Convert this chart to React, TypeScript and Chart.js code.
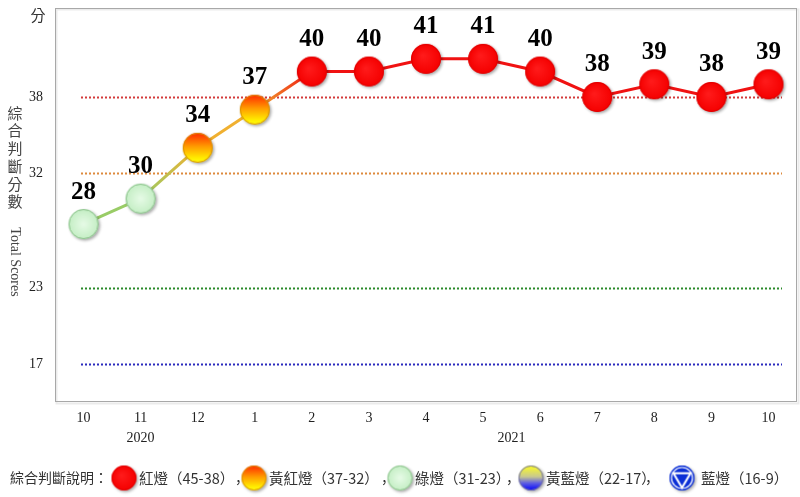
import React, { useEffect, useRef } from "react";
import { Chart, registerables } from "chart.js";
Chart.register(...registerables);

const months = ["10", "11", "12", "1", "2", "3", "4", "5", "6", "7", "8", "9", "10"];
const scores = [28, 30, 34, 37, 40, 40, 41, 41, 40, 38, 39, 38, 39];
const yTicks = [17, 23, 32, 38];
const refLines = [38, 32, 23, 17];
const refColors = ["#d43a3a", "#de8a3c", "#2a8a2a", "#2b2bbd"];
const yearLabels = ["2020", "2021"];
const yearSpans = [[0, 2], [3, 12]];
const yTitleCJK = "綜合判斷分數";
const yTitleEn = "Total Scores";
const unitLabel = "分";
const legendTitle = "綜合判斷說明：";
const lightTypes = ["red", "yellowRed", "green", "yellowBlue", "blue"];
const lightNames = ["紅燈（45-38）", "黃紅燈（37-32）", "綠燈（31-23）", "黃藍燈（22-17）", "藍燈（16-9）"];

const SERIF = "'Times New Roman', 'Liberation Serif', serif";
const CJK = "'Noto Sans CJK TC', 'Noto Sans', sans-serif";
const CJK_SC = "'Noto Sans CJK SC', sans-serif";

function lightOf(v: number): string {
  if (v >= 38) return "red";
  if (v >= 32) return "yellowRed";
  if (v >= 23) return "green";
  if (v >= 17) return "yellowBlue";
  return "blue";
}

const lineColors: Record<string, string> = {
  red: "#f01212",
  yellowRed: "#f0b030",
  green: "#99cc66",
  yellowBlue: "#8888cc",
  blue: "#2233cc",
};

function makeLight(type: string, r: number): HTMLCanvasElement {
  const pad = 5;
  const size = Math.ceil(2 * r + 2 * pad);
  const c = document.createElement("canvas");
  c.width = size;
  c.height = size;
  const g = c.getContext("2d") as CanvasRenderingContext2D;
  const cx = size / 2, cy = size / 2;
  let fill: any = "#ff0000";
  let border = "#dd0000";
  if (type === "red") {
    const rg = g.createRadialGradient(cx - r * 0.2, cy - r * 0.2, 1, cx, cy, r);
    rg.addColorStop(0, "#ff1a1a");
    rg.addColorStop(1, "#f50000");
    fill = rg;
    border = "#e00000";
  } else if (type === "yellowRed") {
    const lg = g.createLinearGradient(0, cy - r, 0, cy + r);
    lg.addColorStop(0, "#ff2a00");
    lg.addColorStop(0.45, "#ff9a00");
    lg.addColorStop(0.85, "#ffee00");
    lg.addColorStop(1, "#ffff10");
    fill = lg;
    border = "#d89000";
  } else if (type === "green") {
    const rg = g.createRadialGradient(cx, cy, 1, cx, cy, r);
    rg.addColorStop(0, "#e4fae4");
    rg.addColorStop(1, "#c4eec4");
    fill = rg;
    border = "#88c088";
  } else if (type === "yellowBlue") {
    const lg = g.createLinearGradient(0, cy - r, 0, cy + r);
    lg.addColorStop(0, "#ffff20");
    lg.addColorStop(0.45, "#c8c890");
    lg.addColorStop(0.7, "#6060e0");
    lg.addColorStop(1, "#0000ff");
    fill = lg;
    border = "#7070a0";
  } else {
    fill = "#0b2fd6";
    border = "#0b2fd6";
  }
  g.save();
  g.shadowColor = "rgba(0,0,0,0.35)";
  g.shadowBlur = 3;
  g.shadowOffsetX = 1.5;
  g.shadowOffsetY = 1.5;
  g.beginPath();
  g.arc(cx, cy, r, 0, Math.PI * 2);
  g.fillStyle = fill;
  g.fill();
  g.restore();
  g.beginPath();
  g.arc(cx, cy, r - 0.5, 0, Math.PI * 2);
  g.lineWidth = 1;
  g.strokeStyle = border;
  g.stroke();
  if (type === "blue") {
    g.beginPath();
    g.arc(cx, cy, r - 2, 0, Math.PI * 2);
    g.strokeStyle = "#ffffff";
    g.lineWidth = 1.2;
    g.stroke();
    const t = r * 0.62;
    g.beginPath();
    g.moveTo(cx - t * 1.1, cy - t * 0.6);
    g.lineTo(cx + t * 1.1, cy - t * 0.6);
    g.lineTo(cx, cy + t * 1.25);
    g.closePath();
    g.strokeStyle = "#ffffff";
    g.lineWidth = 2;
    g.stroke();
  }
  return c;
}

export default function App() {
  const ref = useRef<HTMLCanvasElement | null>(null);
  useEffect(() => {
    if (!ref.current) return;
    const pointImgs: Record<string, HTMLCanvasElement> = {};
    const legendImgs: Record<string, HTMLCanvasElement> = {};
    lightTypes.forEach((t) => {
      pointImgs[t] = makeLight(t, 15);
      legendImgs[t] = makeLight(t, 12.5);
    });

    const decor = {
      id: "decor",
      beforeDatasetsDraw(chart: any) {
        const { ctx, chartArea: a, scales } = chart;
        const y = scales.y;
        ctx.save();
        ctx.strokeStyle = "rgba(0,0,0,0.08)";
        ctx.lineWidth = 2;
        ctx.strokeRect(a.left + 1.5, a.top + 1.5, a.right - a.left, a.bottom - a.top);
        ctx.strokeStyle = "#a8a8a8";
        ctx.lineWidth = 1;
        ctx.strokeRect(a.left + 0.5, a.top + 0.5, a.right - a.left - 1, a.bottom - a.top - 1);
        ctx.lineWidth = 2;
        ctx.setLineDash([2, 2]);
        refLines.forEach((v, i) => {
          const py = Math.round(y.getPixelForValue(v)) + 0.5;
          ctx.strokeStyle = refColors[i];
          ctx.beginPath();
          ctx.moveTo(a.left + 26, py);
          ctx.lineTo(a.right - 15, py);
          ctx.stroke();
        });
        ctx.restore();
      },
      afterDatasetsDraw(chart: any) {
        const { ctx, chartArea: a, scales } = chart;
        const meta = chart.getDatasetMeta(0);
        ctx.save();
        ctx.fillStyle = "#000";
        ctx.font = `bold 25px ${SERIF}`;
        ctx.textAlign = "center";
        ctx.textBaseline = "middle";
        meta.data.forEach((pt: any, i: number) => {
          ctx.fillText(String(scores[i]), pt.x, pt.y - 32);
        });
        ctx.font = `14px ${SERIF}`;
        ctx.fillStyle = "#222";
        yearLabels.forEach((lab, i) => {
          const [f, t] = yearSpans[i];
          const px = (scales.x.getPixelForValue(f) + scales.x.getPixelForValue(t)) / 2;
          ctx.fillText(lab, px, a.bottom + 36);
        });
        ctx.font = `15px ${CJK}`;
        ctx.fillStyle = "#333";
        ctx.fillText(unitLabel, 38, 15);
        ctx.font = `15px ${CJK}`;
        ctx.fillStyle = "#444";
        const chars = Array.from(yTitleCJK);
        chars.forEach((ch, i) => {
          ctx.fillText(ch, 15, 113 + i * 17.7);
        });
        ctx.save();
        ctx.translate(15, 262);
        ctx.rotate(Math.PI / 2);
        ctx.font = `14px ${SERIF}`;
        ctx.fillText(yTitleEn, 0, 0);
        ctx.restore();
        const ly = 478;
        ctx.font = `14px ${CJK}`;
        ctx.fillStyle = "#333";
        ctx.textAlign = "left";
        ctx.fillText(legendTitle, 10, ly);
        const circleX = [124, 254, 400, 531, 682];
        const textX = [139, 269, 415, 546, 701];
        const commaX = [235, 381, 506, 645];
        lightTypes.forEach((t, i) => {
          const img = legendImgs[t];
          ctx.drawImage(img, circleX[i] - img.width / 2, ly - img.height / 2);
          ctx.font = `14.5px ${CJK}`;
          ctx.fillText(lightNames[i], textX[i], ly);
          if (i < commaX.length) {
            ctx.font = `14px ${CJK_SC}`;
            ctx.fillText("，", commaX[i], ly);
          }
        });
        ctx.restore();
      },
    };

    const chart = new Chart(ref.current, {
      type: "line",
      data: {
        labels: months,
        datasets: [
          {
            data: scores,
            borderWidth: 3,
            borderColor: "#f01212",
            pointStyle: (c: any) => pointImgs[lightOf(scores[c.dataIndex])] as any,
            pointRadius: 15,
            segment: {
              borderColor: (c: any) => {
                const a = lineColors[lightOf(scores[c.p0DataIndex])];
                const b = lineColors[lightOf(scores[c.p1DataIndex])];
                if (a === b) return a;
                const g = c.chart.ctx.createLinearGradient(c.p0.x, c.p0.y, c.p1.x, c.p1.y);
                g.addColorStop(0, a);
                g.addColorStop(1, b);
                return g;
              },
            },
          } as any,
        ],
      },
      options: {
        responsive: false,
        animation: false,
        layout: { autoPadding: false, padding: { top: 8, right: 3, left: 0, bottom: 0 } },
        plugins: { legend: { display: false }, tooltip: { enabled: false } },
        scales: {
          x: {
            offset: true,
            grid: { display: false, drawTicks: false },
            border: { display: false },
            ticks: { font: { family: SERIF, size: 14 }, color: "#222", padding: 8, maxRotation: 0, autoSkip: false },
            afterFit: (ax: any) => { ax.height = 95; ax.paddingLeft = 0; ax.paddingRight = 0; },
          },
          y: {
            min: 14,
            max: 45,
            grid: { display: false, drawTicks: false },
            border: { display: false },
            afterBuildTicks: (ax: any) => { ax.ticks = yTicks.map((v) => ({ value: v })); },
            ticks: { font: { family: SERIF, size: 14 }, color: "#222", padding: 12 },
            afterFit: (ax: any) => { ax.width = 55; ax.paddingTop = 0; ax.paddingBottom = 0; },
          },
        },
      } as any,
      plugins: [decor],
    });
    return () => chart.destroy();
  }, []);
  return (
    <div style={{ position: "absolute", left: 0, top: 0, width: 800, height: 497, background: "#fff" }}>
      <canvas ref={ref} width={800} height={497} />
    </div>
  );
}
